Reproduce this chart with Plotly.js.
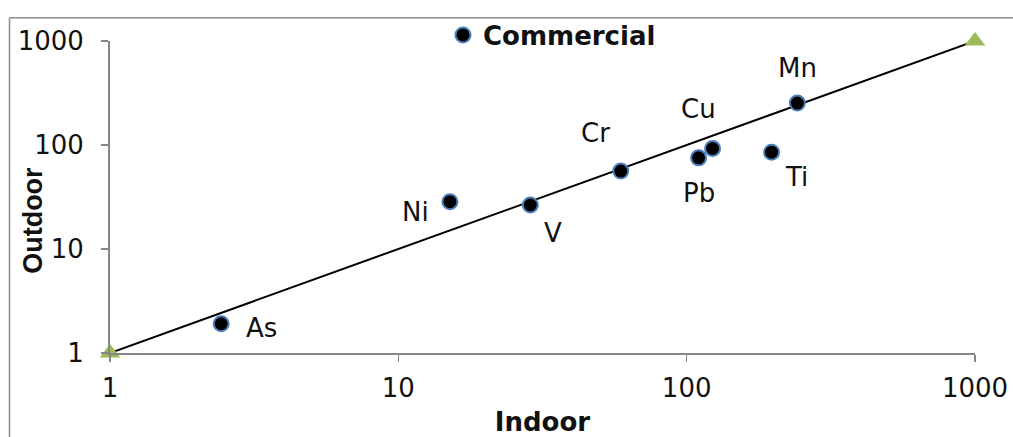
<!DOCTYPE html>
<html>
<head>
<meta charset="utf-8">
<script src="https://cdn.plot.ly/plotly-3.0.1.min.js"></script>
<style>
  html, body { margin: 0; padding: 0; background: #fff; overflow: hidden; }
  #chart { width: 1013px; height: 437px; }
</style>
</head>
<body>
<div id="chart"></div>
<script>
// ---- data ----
const metals  = ['As', 'Ni', 'V', 'Cr', 'Pb', 'Cu', 'Ti', 'Mn'];
const indoor  = [2.43, 15.1, 28.7, 59.1, 110, 123, 197, 242];
const outdoor = [1.91, 28.5, 26.5, 56.1, 75.2, 92.5, 85.3, 253];
const seriesName = 'Commercial';
const oneToOneX = [1, 1000];
const oneToOneY = [1, 1000];
const tickVals = [1, 10, 100, 1000];
const tickText = ['1', '10', '100', '1000'];

// ---- label placement (pixel offsets from each point) ----
const labelShift = {
  As: [40, -4], Ni: [-34, -10], V: [23, -28], Cr: [-25, 38],
  Pb: [0, -35], Cu: [-14, 40], Ti: [25, -25], Mn: [0, 35]
};

const axisGray = '#868686';
const tickFont = { family: 'DejaVu Sans', size: 26, color: '#111' };

const traces = [
  {
    x: oneToOneX, y: oneToOneY, type: 'scatter', mode: 'lines+markers',
    line: { color: '#000', width: 2 },
    marker: { symbol: 'triangle-up', size: 18, color: '#9bbb59' },
    showlegend: false, cliponaxis: false, hoverinfo: 'skip'
  },
  {
    x: indoor, y: outdoor, text: metals, type: 'scatter', mode: 'markers',
    name: '<b>' + seriesName + '</b>',
    marker: { size: 15, color: '#000', line: { color: '#4a7ebb', width: 2 } },
    showlegend: true, cliponaxis: false
  }
];

const annotations = metals.map((m, i) => ({
  x: Math.log10(indoor[i]), y: Math.log10(outdoor[i]), xref: 'x', yref: 'y',
  text: m, showarrow: false, xanchor: 'center', yanchor: 'middle',
  xshift: labelShift[m][0], yshift: labelShift[m][1],
  font: { family: 'DejaVu Sans', size: 26, color: '#111' }
}));
annotations.push({
  text: '<b>Outdoor</b>', xref: 'paper', yref: 'paper',
  x: (33 - 110) / 865, y: (353 - 220) / 314, textangle: -90,
  showarrow: false, xanchor: 'center', yanchor: 'middle',
  font: { family: 'Liberation Sans, Arial', size: 27, color: '#111' }
});

const frameLeft = (9.5 - 110) / 865;
const frameTop = (353 - 15.5) / 314;

const layout = {
  width: 1013, height: 437,
  margin: { l: 110, r: 38, t: 39, b: 84 },
  paper_bgcolor: '#fff', plot_bgcolor: '#fff',
  showlegend: true,
  legend: {
    x: (443 - 110) / 865, y: (353 - 33) / 314, xanchor: 'left', yanchor: 'middle',
    bgcolor: 'rgba(0,0,0,0)', borderwidth: 0,
    font: { family: 'DejaVu Sans', size: 26, color: '#111' }
  },
  xaxis: {
    type: 'log', range: [0, 3], tickvals: tickVals, ticktext: tickText,
    ticks: 'outside', ticklen: 7, tickwidth: 1.5, tickcolor: axisGray,
    showline: true, linecolor: axisGray, linewidth: 2,
    showgrid: false, zeroline: false, tickfont: tickFont,
    ticklabelstandoff: 4,
    title: { text: '<b>Indoor</b>', standoff: 12,
             font: { family: 'DejaVu Sans', size: 26, color: '#111' } }
  },
  yaxis: {
    type: 'log', range: [0, 3], tickvals: tickVals, ticktext: tickText,
    ticks: 'outside', ticklen: 7, tickwidth: 1.5, tickcolor: axisGray,
    showline: true, linecolor: axisGray, linewidth: 2,
    showgrid: false, zeroline: false, tickfont: tickFont,
    ticklabelstandoff: 12
  },
  annotations: annotations,
  shapes: [
    { type: 'line', xref: 'paper', yref: 'paper', x0: frameLeft, x1: 1.1, y0: frameTop, y1: frameTop,
      line: { color: '#8c8c8c', width: 1.5 }, layer: 'below' },
    { type: 'line', xref: 'paper', yref: 'paper', x0: frameLeft, x1: frameLeft, y0: -0.4, y1: frameTop,
      line: { color: '#8c8c8c', width: 1.5 }, layer: 'below' }
  ]
};

Plotly.newPlot('chart', traces, layout, { displayModeBar: false, staticPlot: true }).then(() => {
  // diagnostic: report any element near the right edge
  const out = [];
  document.querySelectorAll('svg *').forEach(el => {
    if (!el.getBoundingClientRect) return;
    const r = el.getBoundingClientRect();
    if (r.width < 4 && r.height > 100 && r.left > 990) out.push(el.tagName + '.' + (el.getAttribute('class') || '') + ' ' + Math.round(r.left));
  });
  if (out.length) console.error('right-edge elements: ' + out.join(' | '));
});
</script>
</body>
</html>
